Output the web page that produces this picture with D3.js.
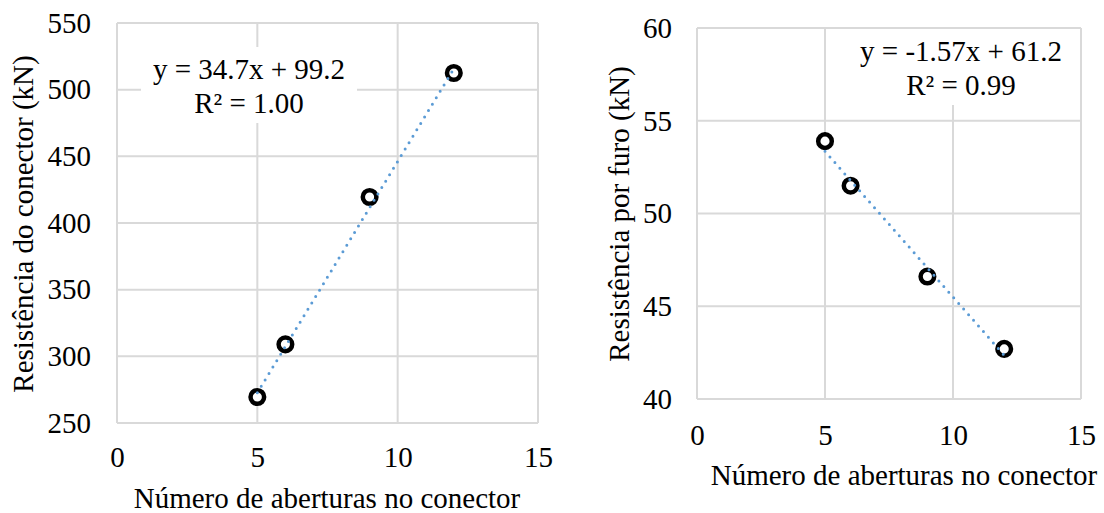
<!DOCTYPE html>
<html>
<meta charset="utf-8">
<head>
<style>
  body { margin: 0; background: #fff; }
  svg text { font-family: "Liberation Serif", "Times New Roman", serif; fill: #000; }
</style>
<script src="https://d3js.org/d3.v7.min.js"></script>
</head>
<body>
<svg></svg>
<script>

// data
var aberturas = [5, 6, 9, 12];
var resistConector = [269.5, 309, 419.5, 512.5];
var resistFuro = [53.9, 51.5, 46.6, 42.7];
var xTicks = [0, 5, 10, 15];
var yTicksConector = [250, 300, 350, 400, 450, 500, 550];
var yTicksFuro = [40, 45, 50, 55, 60];
var trendConector = [34.7, 99.2];   // slope, intercept
var trendFuro = [-1.57, 61.2];
var eqConector = ["y = 34.7x + 99.2", "R² = 1.00"];
var eqFuro = ["y = -1.57x + 61.2", "R² = 0.99"];
var xTitle = "Número de aberturas no conector";

var width = 1104, height = 513;
var fs = 29;

var svg = d3.select("svg")
    .attr("width", width)
    .attr("height", height);

svg.append("rect").attr("width", width).attr("height", height).attr("fill", "#fff");

function drawChart(c) {
    var x = d3.scaleLinear().domain(d3.extent(xTicks)).range([c.left, c.right]);
    var y = d3.scaleLinear().domain(d3.extent(c.yTicks)).range([c.bottom, c.top]);
    var g = svg.append("g");

    // grid (outer lines make the border)
    g.selectAll(".gx").data(xTicks).enter().append("line")
        .attr("x1", d => x(d)).attr("x2", d => x(d))
        .attr("y1", c.top).attr("y2", c.bottom)
        .attr("stroke", "#d9d9d9").attr("stroke-width", 2);
    g.selectAll(".gy").data(c.yTicks).enter().append("line")
        .attr("x1", c.left).attr("x2", c.right)
        .attr("y1", d => y(d)).attr("y2", d => y(d))
        .attr("stroke", "#d9d9d9").attr("stroke-width", 2);

    // tick labels
    var ax = g.append("g")
        .attr("transform", "translate(0," + c.bottom + ")")
        .call(d3.axisBottom(x).tickValues(xTicks).tickSize(0).tickPadding(c.xPad));
    var ay = g.append("g")
        .attr("transform", "translate(" + c.left + ",0)")
        .call(d3.axisLeft(y).tickValues(c.yTicks).tickSize(0).tickPadding(c.yPad));
    [ax, ay].forEach(a => {
        a.attr("font-family", null).attr("font-size", null);
        a.select(".domain").remove();
        a.selectAll("text").attr("font-size", fs).attr("fill", "#000");
    });

    // axis titles
    g.append("text")
        .attr("x", c.xTitleX).attr("y", c.xTitleY)
        .attr("text-anchor", "middle").attr("font-size", fs)
        .text(xTitle);
    g.append("text")
        .attr("transform", "translate(" + c.yTitleX + "," + c.yTitleY + ") rotate(-90)")
        .attr("text-anchor", "middle").attr("dominant-baseline", "central")
        .attr("font-size", fs)
        .text(c.yTitle);

    // equation label with white box
    g.append("rect")
        .attr("x", c.eqX - 108).attr("y", c.eqY - 32)
        .attr("width", 216).attr("height", 76)
        .attr("fill", "#fff");
    g.selectAll(".eq").data(c.eq).enter().append("text")
        .attr("x", c.eqX).attr("y", (d, i) => c.eqY + i * 34)
        .attr("text-anchor", "middle").attr("font-size", fs)
        .text(d => d);

    // markers
    g.selectAll(".pt").data(aberturas).enter().append("circle")
        .attr("cx", d => x(d))
        .attr("cy", (d, i) => y(c.values[i]))
        .attr("r", 6.8)
        .attr("fill", "#fff")
        .attr("stroke", "#000").attr("stroke-width", 4.5);

    // linear trendline over the data range
    var xr = d3.extent(aberturas);
    g.append("line")
        .attr("x1", x(xr[0])).attr("y1", y(c.trend[0] * xr[0] + c.trend[1]))
        .attr("x2", x(xr[1])).attr("y2", y(c.trend[0] * xr[1] + c.trend[1]))
        .attr("stroke", "#5b9bd5").attr("stroke-width", 3)
        .attr("stroke-linecap", "round").attr("stroke-dasharray", "0 7.5");
}

drawChart({
    left: 117, right: 538, top: 23, bottom: 423,
    yTicks: yTicksConector, values: resistConector, trend: trendConector,
    eq: eqConector, eqX: 249, eqY: 79,
    xPad: 23, yPad: 26,
    xTitleX: 327, xTitleY: 508,
    yTitle: "Resistência do conector (kN)", yTitleX: 23, yTitleY: 224
});

drawChart({
    left: 697, right: 1081, top: 28, bottom: 399,
    yTicks: yTicksFuro, values: resistFuro, trend: trendFuro,
    eq: eqFuro, eqX: 961, eqY: 61,
    xPad: 25, yPad: 25,
    xTitleX: 904, xTitleY: 485,
    yTitle: "Resistência por furo (kN)", yTitleX: 619, yTitleY: 214
});

</script>
</body>
</html>
